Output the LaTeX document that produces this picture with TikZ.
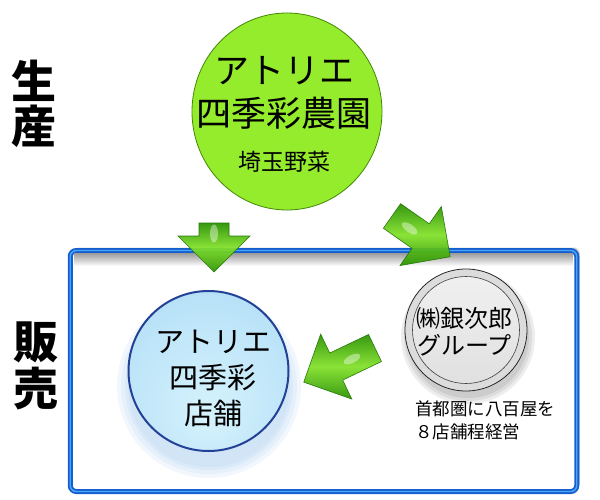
\documentclass[tikz,border=0pt]{standalone}
\usepackage{fontspec}
\setmainfont{Noto Sans CJK JP}
\usetikzlibrary{shadows,shapes.geometric}

\definecolor{farm_light}{RGB}{148,236,45}
\definecolor{farm_mid}{RGB}{122,212,25}
\definecolor{farm_edge}{RGB}{78,160,5}
\definecolor{shop_top}{RGB}{100,150,220}
\definecolor{shop_mid}{RGB}{185,226,248}
\definecolor{shop_bottom}{RGB}{214,243,252}
\definecolor{shop_line}{RGB}{35,65,150}
\definecolor{shop_glow}{RGB}{150,200,240}
\definecolor{box_dark}{RGB}{20,95,205}
\definecolor{box_light}{RGB}{75,165,250}
\definecolor{arrow_light}{RGB}{130,225,40}
\definecolor{arrow_dark}{RGB}{40,145,0}

\pgfdeclareradialshading{farm_shading}{\pgfpoint{0bp}{0bp}}{color(0bp)=(farm_light); color(38bp)=(farm_light); color(46bp)=(farm_mid); color(50bp)=(farm_edge)}
\pgfdeclareradialshading{shop_shading}{\pgfpoint{0bp}{-14bp}}{color(0bp)=(shop_bottom); color(30bp)=(shop_mid); color(48bp)=(shop_mid!60!shop_top); color(62bp)=(shop_top)}
\pgfdeclareradialshading{ring_shading}{\pgfpoint{0bp}{0bp}}{color(0bp)=(gray!30); color(42bp)=(gray!25); color(45bp)=(white); color(47bp)=(gray!45); color(50bp)=(gray!70!black)}

\tikzset{
  stage_label/.style={align=center, inner sep=0, font=\bfseries\fontsize{45}{45}\selectfont},
  sales_frame/.style={rectangle, rounded corners=6, minimum width=506.5, minimum height=241,
    draw=box_dark, line width=5, fill=white,
    drop shadow={shadow xshift=3, shadow yshift=-3, opacity=0.35},
    postaction={draw=box_light, line width=1.4}},
  farm_ball/.style={ellipse, minimum width=190, minimum height=197, shading=farm_shading, draw=farm_edge!85!black, line width=0.8},
  shop_ball/.style={circle, minimum size=160, shading=shop_shading, draw=shop_line, line width=2},
  silver_ring/.style={circle, minimum size=122, shading=ring_shading, draw=gray!30!black, line width=0.8},
  silver_face/.style={circle, minimum size=107, top color=gray!12, bottom color=gray!24, draw=gray!50!black, line width=0.6},
  farm_text/.style={align=center, inner sep=0, font=\fontsize{35}{43.5}\selectfont},
  farm_sub/.style={inner sep=0, font=\fontsize{23}{23}\selectfont},
  shop_text/.style={align=center, inner sep=0, font=\fontsize{29}{36}\selectfont},
  group_text/.style={align=center, inner sep=0, font=\fontsize{24}{27}\selectfont},
  note_text/.style={align=left, inner sep=0, font=\fontsize{17.5}{23}\selectfont},
  arrow_body/.style={top color=arrow_dark, bottom color=arrow_dark, middle color=arrow_light,
    draw=arrow_dark!80!black, line width=0.6, opacity=0.93},
  pics/green_arrow/.style={code={
    \shade[arrow_body] (0,-15) -- (#1,-15) -- (#1,-36) -- ({#1+36},0) -- (#1,36) -- (#1,15) -- (0,15) -- cycle;
    \fill[white, opacity=0.4] ({#1*0.5+4},0) ellipse (9 and 4);
  }}
}

\begin{document}
\begin{tikzpicture}[x=1pt, y=-1pt]

	% Page.
	\fill[white] (0,0) rectangle (600,500);

	% Stage labels.
	\node[stage_label] (label_production) at (34,103.5) {生\\産};
	\node[stage_label, font=\bfseries\fontsize{45}{47.5}\selectfont] (label_sales) at (36,366) {販\\売};

	% Sales frame.
	\node[sales_frame] (sales_frame) at (323.5,371) {};
	\shade[top color=black!38, bottom color=white] (74,253.5) rectangle (573,266);

	% Farm.
	\node[farm_ball] (farm) at (287,111.5) {};
	\node[farm_text] (farm_name) at (284,93) {アトリエ\\四季彩農園};
	\node[farm_sub] (farm_product) at (284,162) {埼玉野菜};

	% Shop.
	\foreach \r in {92,88,84,81}
		\fill[shop_glow, opacity=0.13] (209,386) circle (\r);
	\node[shop_ball] (shop) at (208.5,371) {};
	\node[shop_text] (shop_name) at (213,378) {アトリエ\\四季彩\\店舗};

	% Group.
	\foreach \r in {67,64,61}
		\fill[black, opacity=0.07] (468,337) circle (\r);
	\node[silver_ring] (group) at (466,330) {};
	\node[silver_face] (group_face) at (466,330) {};
	\node[group_text] (group_name) at (464.5,331.5) {㈱銀次郎\\グループ};
	\node[note_text, anchor=west] (group_note) at (415,420.5) {首都圏に八百屋を\\８店舗程経営};

	% Arrows.
	\pic[rotate=-90] (farm_to_shop) at (214,223) {green_arrow=13};
	\pic[rotate=-35] (farm_to_group) at (392,216) {green_arrow=35};
	\pic[rotate=-154.4] (group_to_shop) at (375,348) {green_arrow=43};

\end{tikzpicture}
\end{document}
